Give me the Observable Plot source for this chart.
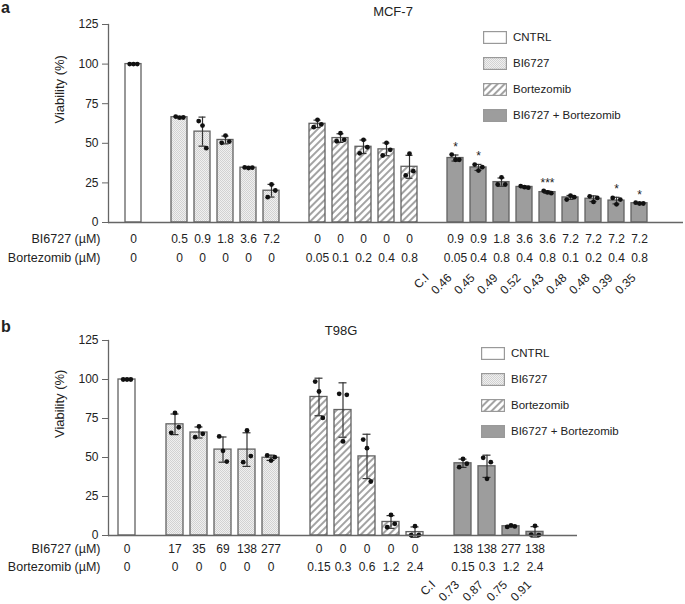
<!DOCTYPE html>
<html><head><meta charset="utf-8">
<script src="https://cdn.jsdelivr.net/npm/d3@7"></script>
<script src="https://cdn.jsdelivr.net/npm/@observablehq/plot@0.6"></script>
<style>
body{margin:0;background:#fff;font-family:"Liberation Sans",Arial,sans-serif;color:#222}
#wrap{position:relative;width:685px;height:604px;overflow:hidden}
.panel{position:absolute;left:0;width:685px}
.panel svg{display:block}
.title{position:absolute;font-size:13px;transform:translate(-50%,-50%);white-space:nowrap}
.letter{position:absolute;left:1px;font-weight:bold;font-size:16px;line-height:16px}
.legend{position:absolute;font-size:11.5px}
.legend .row{display:flex;align-items:center;height:26px}
.legend svg{margin-right:6px;flex:none}
</style></head><body>
<svg width="0" height="0" style="position:absolute"><defs>
<pattern id="pDots" width="2" height="2" patternUnits="userSpaceOnUse"><rect width="2" height="2" fill="#f0f0f0"/><rect width="1" height="1" fill="#d2d2d2"/><rect x="1" y="1" width="1" height="1" fill="#d2d2d2"/></pattern>
<pattern id="pHatch" width="5" height="5" patternUnits="userSpaceOnUse" patternTransform="rotate(45)"><rect width="5" height="5" fill="#fff"/><line x1="1" y1="0" x2="1" y2="5" stroke="#a3a3a3" stroke-width="2"/></pattern>
</defs></svg>
<div id="wrap"></div>
<script>
// ---------- data ----------
const legendNames = ["CNTRL", "BI6727", "Bortezomib", "BI6727 + Bortezomib"];
// group codes: C = CNTRL, B = BI6727, Z = Bortezomib, X = combination

// Panel a: MCF-7
const aTitle = "MCF-7";
const aGroup = ["C","B","B","B","B","B","Z","Z","Z","Z","Z","X","X","X","X","X","X","X","X","X"];
const aBI    = ["0","0.5","0.9","1.8","3.6","7.2","0","0","0","0","0","0.9","0.9","1.8","3.6","3.6","7.2","7.2","7.2","7.2"];
const aBort  = ["0","0","0","0","0","0","0.05","0.1","0.2","0.4","0.8","0.05","0.4","0.8","0.4","0.8","0.1","0.2","0.4","0.8"];
const aCI    = ["0.46","0.45","0.49","0.52","0.43","0.48","0.48","0.39","0.35"];
const aStars = ["*","*","","","***","","","*","*"];
const aDots = [
  [100,100,100],[66.9,66.2,66.3],[64.0,61.2,46.9],[50.3,54.9,51.1],[34.8,34.4,34.6],[16.0,24.0,20.2],
  [60.2,64.8,61.9],[51.3,56.4,52.2],[43.7,52.2,47.5],[42.3,50.3,45.9],[29.7,43.4,32.4],
  [42.9,39.6,39.6],[36.6,32.8,34.9],[24.0,28.5,24.0],[23.0,22.3,22.0],[20.0,19.0,18.5],
  [14.5,17.0,16.0],[16.5,13.0,15.5],[15.5,11.5,14.5],[12.5,12.0,12.0]
];

// Panel b: T98G
const bTitle = "T98G";
const bGroup = ["C","B","B","B","B","B","Z","Z","Z","Z","Z","X","X","X","X"];
const bBI    = ["0","17","35","69","138","277","0","0","0","0","0","138","138","277","138"];
const bBort  = ["0","0","0","0","0","0","0.15","0.3","0.6","1.2","2.4","0.15","0.3","1.2","2.4"];
const bCI    = ["0.73","0.87","0.75","0.91"];
const bStars = ["","","",""];
const bDots = [
  [100,100,100],[65.8,78.6,69.4],[63.0,69.9,65.2],[63.5,54.3,47.4],[47.0,67.3,50.9],[51.3,48.0,50.2],
  [98.7,92.3,75.4],[90.8,60.3,90.2],[61.5,56.0,34.6],[5.3,13.2,7.5],[0.2,6.0,0.3],
  [43.8,49.1,46.0],[49.8,36.3,47.0],[5.5,6.5,5.8],[0.5,6.2,0.3]
];
const ciHeader = "C.I";
const yTicks = [0, 25, 50, 75, 100, 125];

// ---------- drawing ----------
const fills = {C: "#ffffff", B: "url(#pDots)", Z: "url(#pHatch)", X: "#9d9d9d"};
const codes = ["C","B","Z","X"];
const FONT = "Liberation Sans, Arial, sans-serif";

function makePanel(cfg) {
  const bars = cfg.group.map((g, i) => ({
    key: "bar" + i, g, bi: cfg.bi[i], bort: cfg.bort[i], vals: cfg.dots[i],
    mean: d3.mean(cfg.dots[i]), sd: d3.deviation(cfg.dots[i]) || 0
  }));
  const domain = [];
  let prev = null, gi = 0, lastGap = null;
  for (const b of bars) {
    if (prev !== null && b.g !== prev) { lastGap = "gap" + (gi++); domain.push(lastGap); }
    domain.push(b.key); prev = b.g;
  }
  const combos = bars.filter(b => b.g === "X");
  const ciData = [{key: lastGap, t: ciHeader}, ...combos.map((b, i) => ({key: b.key, t: cfg.ci[i]}))];
  const starData = combos.map((b, i) => ({key: b.key, y: b.mean + b.sd, t: cfg.stars[i]})).filter(d => d.t);
  const pts = bars.flatMap(b => b.vals.map((v, j) => ({key: b.key, v, j})));
  const err = bars.filter(b => b.sd > 0);
  const ink = "#333";
  return Plot.plot({
    width: 685, height: cfg.height,
    marginTop: cfg.mt, marginBottom: cfg.mb, marginLeft: 108, marginRight: cfg.mr,
    style: {fontFamily: FONT, fontSize: "12px", color: "#222", background: "transparent", overflow: "visible"},
    x: {type: "band", domain, range: cfg.xr, paddingInner: 0.31, paddingOuter: 0.155, axis: null},
    y: {domain: [0, 125], axis: null},
    marks: [
      ...codes.map(c => Plot.barY(bars.filter(b => b.g === c), {x: "key", y: "mean", fill: fills[c], stroke: "#626262", strokeWidth: 1.3})),
      Plot.ruleX(err, {x: "key", y1: b => b.mean - b.sd, y2: b => b.mean + b.sd, stroke: ink, strokeWidth: 1.2}),
      Plot.tickY(err, {x: "key", y: b => b.mean + b.sd, insetLeft: 4.5, insetRight: 4.5, stroke: ink, strokeWidth: 1.2}),
      Plot.tickY(err, {x: "key", y: b => b.mean - b.sd, insetLeft: 4.5, insetRight: 4.5, stroke: ink, strokeWidth: 1.2}),
      ...[0, 1, 2].map(j => Plot.dot(pts.filter(p => p.j === j), {x: "key", y: "v", r: 2.4, fill: "#111", stroke: "none", dx: (j - 1) * 3.8})),
      Plot.ruleY([0], {stroke: "#666", strokeWidth: 1.3}),
      Plot.frame({anchor: "left", stroke: "#666", strokeWidth: 1.3}),
      Plot.axisY({ticks: yTicks, tickSize: 6, tickPadding: 4, label: null, stroke: "#666", fill: "#222", fontSize: 12}),
      Plot.text(["Viability (%)"], {frameAnchor: "left", rotate: -90, dx: -49, fontSize: 13, fill: "#222"}),
      Plot.text(starData, {x: "key", y: "y", text: "t", lineAnchor: "bottom", dy: -4, fontSize: 12, fill: "#222"}),
      Plot.text(bars, {x: "key", text: "bi", frameAnchor: "bottom", dy: cfg.r1, fontSize: 12, fill: "#222"}),
      Plot.text(bars, {x: "key", text: "bort", frameAnchor: "bottom", dy: cfg.r2, fontSize: 12, fill: "#222"}),
      Plot.text(["BI6727 (µM)"], {frameAnchor: "bottom-left", textAnchor: "end", dx: -8, dy: cfg.r1, fontSize: 12.5, fill: "#222"}),
      Plot.text(["Bortezomib (µM)"], {frameAnchor: "bottom-left", textAnchor: "end", dx: -8, dy: cfg.r2, fontSize: 12.5, fill: "#222"}),
      Plot.text(ciData, {x: "key", text: "t", frameAnchor: "bottom", rotate: -45, textAnchor: "end", dx: -3, dy: cfg.r3, fontSize: 12, fill: "#222"})
    ]
  });
}

function legend(left, top) {
  const div = document.createElement("div");
  div.className = "legend";
  div.style.left = left + "px"; div.style.top = top + "px";
  codes.forEach((c, i) => {
    const row = document.createElement("div"); row.className = "row";
    row.innerHTML = `<svg width="24" height="13"><rect x="0.6" y="0.6" width="22.8" height="11.8" fill="${fills[c]}" stroke="#999" stroke-width="1.2"/></svg><span>${legendNames[i]}</span>`;
    div.appendChild(row);
  });
  return div;
}

function addPanel(top, height, letter, title, titleX, titleY, legX, legY, cfg) {
  const p = document.createElement("div");
  p.className = "panel"; p.style.top = top + "px"; p.style.height = height + "px";
  p.appendChild(makePanel(cfg));
  const l = document.createElement("div"); l.className = "letter"; l.textContent = letter; l.style.top = cfg.letterTop + "px";
  p.appendChild(l);
  const t = document.createElement("div"); t.className = "title"; t.textContent = title;
  t.style.left = titleX + "px"; t.style.top = titleY + "px";
  p.appendChild(t);
  p.appendChild(legend(legX, legY));
  document.getElementById("wrap").appendChild(p);
}

addPanel(0, 300, "a", aTitle, 393, 11, 483, 24, {
  group: aGroup, bi: aBI, bort: aBort, ci: aCI, stars: aStars, dots: aDots,
  height: 300, mt: 24, mb: 78, mr: 2, xr: [110, 661], r1: 20, r2: 39, r3: 56, letterTop: 0
});
addPanel(300, 304, "b", bTitle, 341, 30, 481, 40, {
  group: bGroup, bi: bBI, bort: bBort, ci: bCI, stars: bStars, dots: bDots,
  height: 304, mt: 40, mb: 69, mr: 108, xr: [109.8, 550.2], r1: 17, r2: 35, r3: 50, letterTop: 19
});
</script>
</body></html>
